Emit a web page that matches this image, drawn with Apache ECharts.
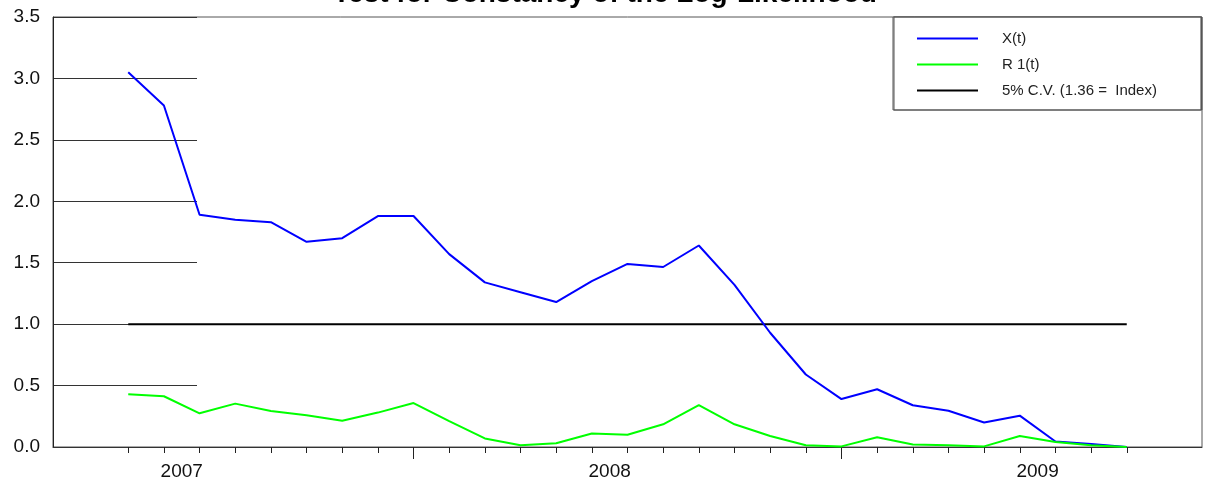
<!DOCTYPE html>
<html>
<head>
<meta charset="utf-8">
<title>Test for Constancy of the Log-Likelihood</title>
<script src="https://cdn.jsdelivr.net/npm/echarts@6/dist/echarts.min.js"></script>
<style>
  html, body { margin: 0; padding: 0; background: #ffffff; }
  #chart { width: 1210px; height: 489px; }
</style>
</head>
<body>
<div id="chart"></div>
<script>
// Monthly observations
const months = [
  '2007-05', '2007-06', '2007-07', '2007-08', '2007-09', '2007-10', '2007-11', '2007-12',
  '2008-01', '2008-02', '2008-03', '2008-04', '2008-05', '2008-06', '2008-07', '2008-08',
  '2008-09', '2008-10', '2008-11', '2008-12',
  '2009-01', '2009-02', '2009-03', '2009-04', '2009-05', '2009-06', '2009-07', '2009-08', '2009-09'
];

// X(t) statistic
const xStat = [
  3.05, 2.78, 1.89, 1.85, 1.83, 1.67, 1.70, 1.88,
  1.88, 1.57, 1.34, 1.26, 1.18, 1.35, 1.49, 1.465,
  1.64, 1.32, 0.93, 0.59,
  0.39, 0.47, 0.34, 0.295, 0.20, 0.255, 0.045, 0.025, 0.0
];

// R1(t) statistic
const r1Stat = [
  0.43, 0.413, 0.274, 0.353, 0.293, 0.258, 0.214, 0.28,
  0.358, 0.21, 0.07, 0.015, 0.03, 0.11, 0.10, 0.185,
  0.34, 0.185, 0.09, 0.015,
  0.005, 0.08, 0.02, 0.015, 0.005, 0.09, 0.04, 0.015, 0.0
];

// 5% critical value level
const cvLevel = 1.0;

// Year labels on the time axis
const yearLabels = ['2007', '2008', '2009'];

// Legend names
const seriesNames = ['X(t)', 'R 1(t)', '5% C.V. (1.36 =  Index)'];

// ---- helpers mapping calendar months to axis positions ----
const [startYear, startMonth] = months[0].split('-').map(Number);
const monthPos = (y, m) => (y - startYear) * 12 + (m - startMonth);
const monthTicks = months.map((_, i) => i);
const januaryTicks = months.map((m, i) => (m.endsWith('-01') ? i : null)).filter(v => v !== null);
// each year's label sits mid-year, between June and July
const yearLabelPos = yearLabels.map(y => monthPos(Number(y), 7) - 0.5);
const yearAt = v => {
  const k = yearLabelPos.findIndex(p => Math.abs(p - v) < 1e-6);
  return k >= 0 ? yearLabels[k] : '';
};

const pad = 2.11;
const xMin = -pad;
const xMax = months.length - 1 + pad;

const font = "'Liberation Sans', Arial, sans-serif";

const chart = echarts.init(document.getElementById('chart'), null, { renderer: 'canvas' });

chart.setOption({
  animation: false,
  backgroundColor: '#ffffff',
  textStyle: { fontFamily: font },
  title: {
    text: 'Test for Constancy of the Log-Likelihood',
    left: 'center',
    top: -20,
    padding: 0,
    textStyle: { fontFamily: font, fontSize: 28, fontWeight: 'bold', color: '#000000' }
  },
  legend: {
    data: seriesNames,
    orient: 'vertical',
    left: 893,
    top: 17,
    padding: [14, 44, 12, 24],
    icon: 'rect',
    itemWidth: 61,
    itemHeight: 2,
    itemGap: 11,
    backgroundColor: '#ffffff',
    borderColor: '#555555',
    borderWidth: 1,
    shadowColor: '#555555',
    shadowOffsetX: 1,
    shadowOffsetY: 0,
    shadowBlur: 0,
    textStyle: { fontFamily: font, fontSize: 15, color: '#222222', padding: [0, 0, 0, 19] }
  },
  grid: [
    { left: 53, right: 8, top: 17, bottom: 42, show: true, borderColor: '#555555', borderWidth: 1 },
    // grid lines drawn only across the left part of the plot
    { left: 53, width: 144, top: 17, bottom: 42 }
  ],
  xAxis: [
    {
      type: 'value', gridIndex: 0, position: 'bottom', min: xMin, max: xMax,
      splitLine: { show: false },
      axisLine: { show: true, onZero: false, lineStyle: { color: '#333333', width: 1 } },
      axisTick: { show: true, customValues: monthTicks, length: 6, lineStyle: { color: '#222222' } },
      axisLabel: {
        show: true, customValues: yearLabelPos, formatter: yearAt, margin: 15,
        fontFamily: font, fontSize: 19, color: '#111111'
      }
    },
    {
      type: 'value', gridIndex: 0, position: 'bottom', offset: 0, min: xMin, max: xMax,
      splitLine: { show: false },
      axisLine: { show: false, onZero: false },
      axisTick: { show: true, customValues: januaryTicks, length: 12, lineStyle: { color: '#222222' } },
      axisLabel: { show: false }
    },
    {
      type: 'value', gridIndex: 1, min: 0, max: 1, show: false
    }
  ],
  yAxis: [
    {
      type: 'value', gridIndex: 0, min: 0, max: 3.5, interval: 0.5,
      splitLine: { show: false },
      axisLine: { show: true, onZero: false, lineStyle: { color: '#222222', width: 1 } },
      axisTick: { show: false },
      axisLabel: {
        margin: 13, fontFamily: font, fontSize: 19, color: '#111111',
        formatter: v => v.toFixed(1)
      }
    },
    {
      type: 'value', gridIndex: 1, min: 0, max: 3.5, interval: 0.5,
      axisLine: { show: false, onZero: false },
      axisTick: { show: false },
      axisLabel: { show: false },
      splitLine: { show: true, lineStyle: { color: '#333333', width: 1 } }
    }
  ],
  series: [
    {
      name: seriesNames[0], type: 'line', xAxisIndex: 0, yAxisIndex: 0, z: 3,
      symbol: 'none', color: '#0000ff',
      lineStyle: { color: '#0000ff', width: 2 },
      data: xStat.map((v, i) => [i, v])
    },
    {
      name: seriesNames[1], type: 'line', xAxisIndex: 0, yAxisIndex: 0, z: 4,
      symbol: 'none', color: '#00ff00',
      lineStyle: { color: '#00ff00', width: 2 },
      data: r1Stat.map((v, i) => [i, v])
    },
    {
      name: seriesNames[2], type: 'line', xAxisIndex: 0, yAxisIndex: 0, z: 2,
      symbol: 'none', color: '#000000',
      lineStyle: { color: '#000000', width: 2 },
      data: months.map((_, i) => [i, cvLevel])
    }
  ]
});
</script>
</body>
</html>
